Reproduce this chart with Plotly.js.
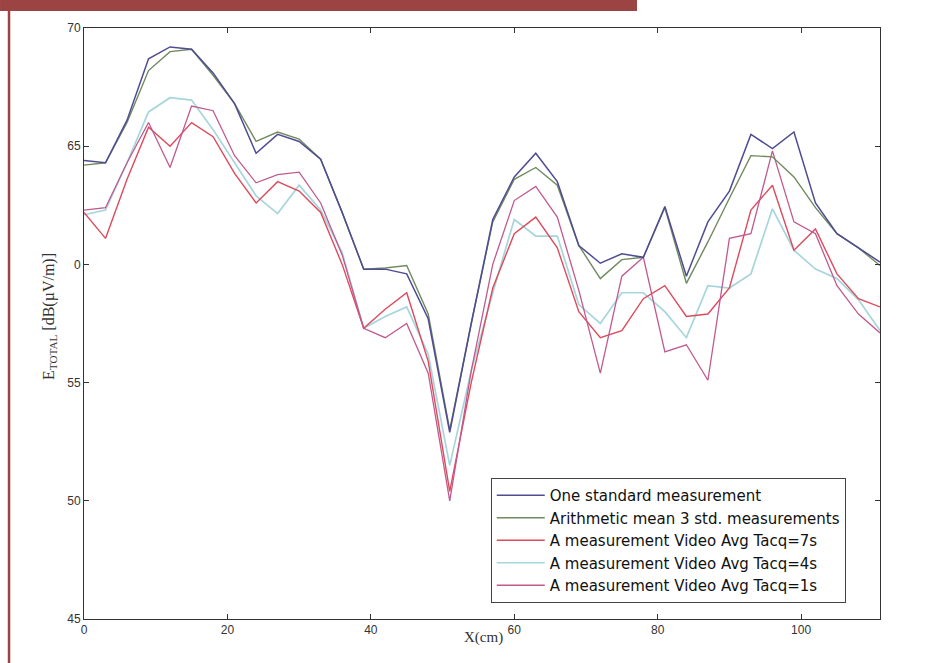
<!DOCTYPE html>
<html>
<head>
<meta charset="utf-8">
<script src="https://cdn.plot.ly/plotly-3.0.1.min.js"></script>
<style>
html,body{margin:0;padding:0;background:#fff;}
#chart{width:935px;height:663px;}
</style>
</head>
<body>
<div id="chart"></div>
<script>
// Position along the line (cm)
const xCm = [0,3,6,9,12,15,18,21,24,27,30,33,36,39,42,45,48,51,54,57,60,63,66,69,72,75,78,81,84,87,90,93,96,99,102,105,108,111];

// Series values (dB µV/m)
const oneStandard = [64.4,64.3,66.1,68.7,69.2,69.1,68.1,66.8,64.7,65.5,65.2,64.45,62.2,59.8,59.8,59.6,57.7,52.9,57.5,61.9,63.7,64.7,63.5,60.8,60.05,60.45,60.3,62.45,59.5,61.8,63.1,65.5,64.9,65.6,62.6,61.3,60.7,60.1];
const meanThree = [64.2,64.3,66.0,68.2,69.0,69.1,68.0,66.8,65.2,65.6,65.3,64.45,62.2,59.8,59.85,59.95,57.9,53.0,57.5,61.8,63.6,64.1,63.35,60.8,59.4,60.2,60.3,62.4,59.2,60.95,62.8,64.6,64.55,63.7,62.4,61.3,60.7,59.95];
const videoAvg7s = [62.2,61.1,63.6,65.8,65.0,66.0,65.4,63.85,62.6,63.5,63.1,62.2,60.0,57.3,58.1,58.8,55.9,50.4,55.0,59.0,61.3,62.0,60.7,58.0,56.9,57.2,58.55,59.1,57.8,57.9,59.0,62.3,63.35,60.6,61.5,59.6,58.55,58.2];
const videoAvg4s = [62.1,62.3,64.3,66.45,67.05,66.95,65.7,64.3,62.9,62.15,63.35,62.3,60.5,57.3,57.8,58.2,56.2,51.5,55.5,58.8,61.9,61.2,61.2,58.3,57.5,58.8,58.8,58.0,56.9,59.1,59.0,59.6,62.35,60.6,59.8,59.4,58.5,57.2];
const videoAvg1s = [62.3,62.4,64.3,66.0,64.1,66.7,66.5,64.6,63.45,63.8,63.9,62.6,60.4,57.3,56.9,57.5,55.4,50.0,55.5,60.0,62.7,63.3,62.0,58.9,55.4,59.5,60.3,56.3,56.6,55.1,61.1,61.3,64.8,61.8,61.3,59.1,57.9,57.1];

const seriesNames = ['One standard measurement','Arithmetic mean 3 std. measurements','A measurement Video Avg Tacq=7s','A measurement Video Avg Tacq=4s','A measurement Video Avg Tacq=1s'];

// Axis ticks and titles
const xTickVals = [0,20,40,60,80,100];
const yTickVals = [45,50,55,60,65,70];
const yTickText = ['45','50','55','0','65','70'];
const xTitle = 'X(cm)';
const yTitle = 'E<sub>TOTAL</sub> [dB(µV/m)]';

function tr(y, name, color, rank, width){
  return {x:xCm, y:y, name:name, type:'scatter', mode:'lines',
          line:{color:color, width:width}, legendrank:rank};
}

const data = [
  tr(videoAvg4s, seriesNames[3], '#a6d6dc', 4, 1.7),
  tr(videoAvg7s, seriesNames[2], '#dd4a5c', 3, 1.4),
  tr(videoAvg1s, seriesNames[4], '#c05a8e', 5, 1.3),
  tr(meanThree, seriesNames[1], '#6e8a5e', 2, 1.4),
  tr(oneStandard, seriesNames[0], '#4f4c92', 1, 1.5)
];

const axisCommon = {
  showline:true, linecolor:'#333', linewidth:1, mirror:'ticks',
  ticks:'inside', ticklen:5, tickcolor:'#333', showgrid:false, zeroline:false,
  tickfont:{family:'Liberation Sans, Arial, sans-serif', size:12, color:'#333'}
};

const layout = {
  width:935, height:663,
  paper_bgcolor:'#ffffff', plot_bgcolor:'#ffffff',
  margin:{l:84, r:55, t:28, b:44},
  showlegend:true,
  xaxis: Object.assign({}, axisCommon, {range:[0,111], tickvals:xTickVals}),
  yaxis: Object.assign({}, axisCommon, {range:[45,70], tickvals:yTickVals, ticktext:yTickText}),
  legend:{
    x:0.511, y:0.2386, xanchor:'left', yanchor:'top',
    bgcolor:'#ffffff', bordercolor:'#444', borderwidth:1,
    font:{family:'DejaVu Sans, Arial, sans-serif', size:15, color:'#111'},
    itemwidth:48, traceorder:'normal'
  },
  annotations:[
    {text:xTitle, xref:'paper', yref:'paper', x:0.5015, y:-0.0305, xanchor:'center', yanchor:'middle',
     showarrow:false, font:{family:'Liberation Serif, Times New Roman, serif', size:15, color:'#333'}},
    {text:yTitle, xref:'paper', yref:'paper', x:-0.0427, y:0.511, xanchor:'center', yanchor:'middle',
     textangle:-90, showarrow:false, font:{family:'Liberation Serif, Times New Roman, serif', size:16, color:'#333'}}
  ],
  shapes:[
    {type:'rect', xref:'paper', yref:'paper', x0:-0.1055, x1:0.6947, y0:1.0288, y1:1.0474,
     fillcolor:'#9c4444', line:{width:0}, layer:'above'},
    {type:'line', xref:'paper', yref:'paper', x0:-0.0942, x1:-0.0942, y0:-0.0745, y1:1.0474,
     line:{color:'#9c4444', width:2.5}, layer:'above'}
  ]
};

Plotly.newPlot('chart', data, layout, {displayModeBar:false, staticPlot:true});
</script>
</body>
</html>
